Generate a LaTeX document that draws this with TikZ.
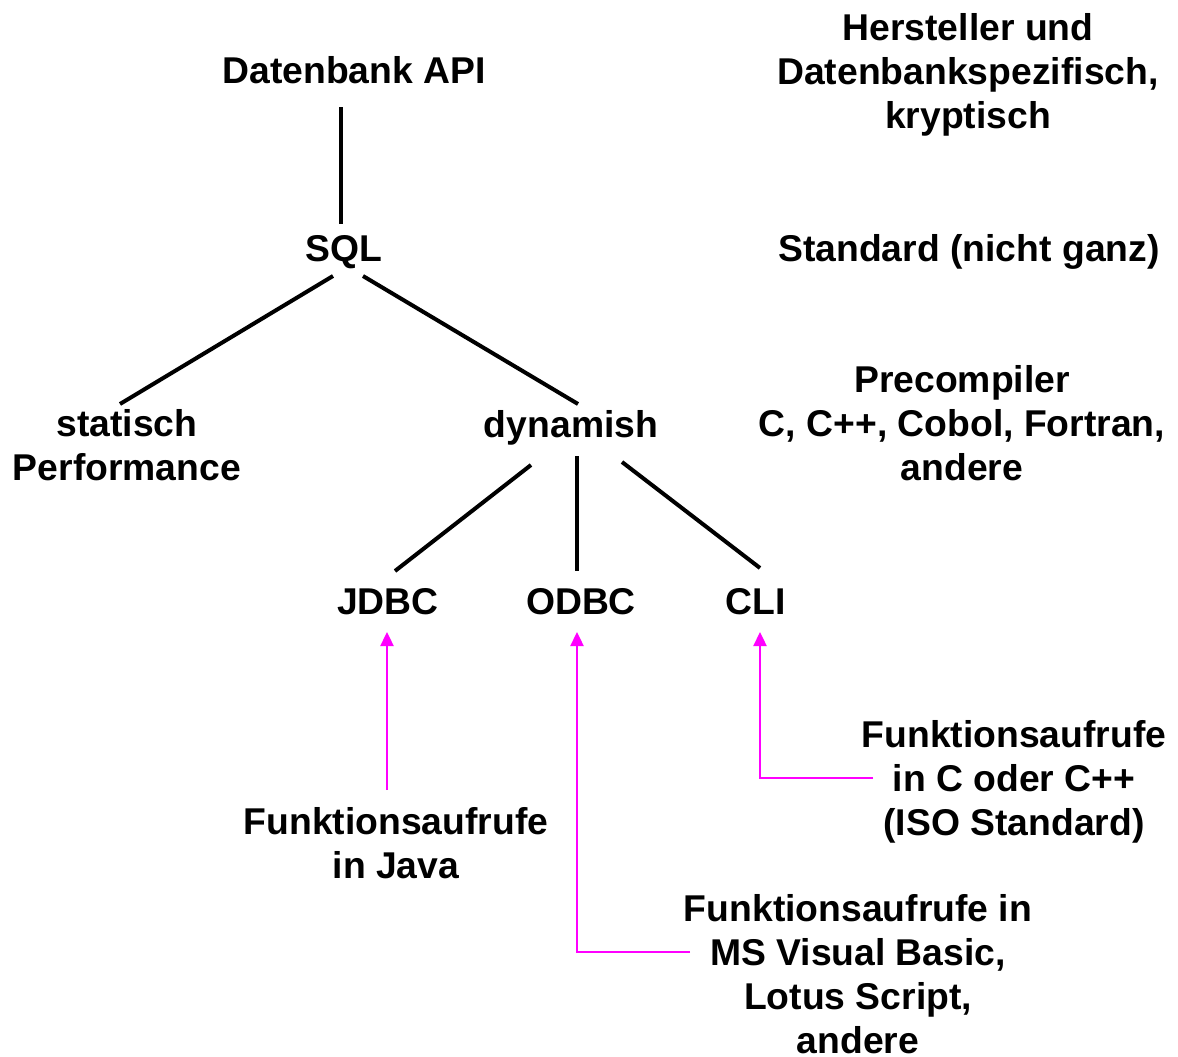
\documentclass[tikz,border=0pt]{standalone}
\usepackage{fontspec}
\setmainfont{Liberation Sans}
\usetikzlibrary{arrows.meta}
\definecolor{linkmag}{RGB}{255,0,255}
\tikzset{
  lbl/.style={font=\fontsize{37.3}{44}\selectfont\bfseries, inner sep=0pt, align=center},
  single/.style={lbl, anchor=base},
  branch/.style={line width=4pt, black},
  callarrow/.style={line width=2.4pt, linkmag, -{Triangle[length=14pt,width=13pt]}}
}
\begin{document}
\begin{tikzpicture}[x=1pt,y=-1pt]
\useasboundingbox (0,0) rectangle (1178,1057);

% tree labels
\node[single] (api) at (354,84) {Datenbank API};
\node[single] (sql) at (344,261) {SQL};
\node[lbl] (statisch) at (127,445.5) {statisch\\Performance};
\node[single] (dyn) at (571,437) {dynamish};
\node[single] (jdbc) at (388,614) {JDBC};
\node[single] (odbc) at (581,614) {ODBC};
\node[single] (cli) at (756,614) {CLI};

% right-hand descriptions
\node[lbl] (hersteller) at (968,74.5) {Hersteller und\\Datenbankspezifisch,\\kryptisch};
\node[single] (standard) at (969,261) {Standard (nicht ganz)};
\node[lbl] (precomp) at (962,423.5) {Precompiler\\C, C++, Cobol, Fortran,\\andere};

% call interfaces
\node[lbl] (java) at (396,843.5) {Funktionsaufrufe\\in Java};
\node[lbl] (cfunc) at (1014,781.5) {Funktionsaufrufe\\in C oder C++\\(ISO Standard)};
\node[lbl] (msfunc) at (858,974) {Funktionsaufrufe in\\MS Visual Basic,\\Lotus Script,\\andere};

% branch end points
\coordinate (apiB) at (341,107);
\coordinate (sqlT) at (341,224);
\coordinate (sqlL) at (333,276);
\coordinate (sqlR) at (363,276);
\coordinate (statT) at (120,404);
\coordinate (dynT) at (578,404);
\coordinate (dynL) at (531,465);
\coordinate (dynM) at (577,456);
\coordinate (dynR) at (622,462);
\coordinate (jdbcT) at (395,571);
\coordinate (odbcT) at (577,571);
\coordinate (cliT) at (760,568);

\draw[branch] (apiB) -- (sqlT);
\draw[branch] (sqlL) -- (statT);
\draw[branch] (sqlR) -- (dynT);
\draw[branch] (dynL) -- (jdbcT);
\draw[branch] (dynM) -- (odbcT);
\draw[branch] (dynR) -- (cliT);

% arrows from the call descriptions up to the interfaces
\coordinate (javaA) at (387,790);
\coordinate (jdbcA) at (387,632);
\coordinate (msA) at (690,952);
\coordinate (odbcA) at (577,632);
\coordinate (cA) at (873,778);
\coordinate (cliA) at (760,632);

\draw[callarrow] (javaA) -- (jdbcA);
\draw[callarrow] (msA) -| (odbcA);
\draw[callarrow] (cA) -| (cliA);
\end{tikzpicture}
\end{document}
